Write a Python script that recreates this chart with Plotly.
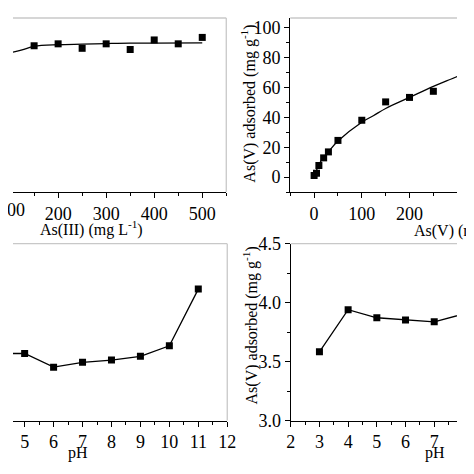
import plotly.graph_objects as go

# ---- data ----
# top-left: As(III) isotherm
c3 = [100, 150, 200, 250, 300, 350, 400, 450, 500]
q3 = [79.0, 88.0, 89.3, 86.3, 89.3, 85.5, 91.9, 89.3, 93.6]
c3_fit = [80, 90, 100, 125, 150, 200, 250, 300, 350, 400, 500]
q3_fit = [80.7, 82.3, 83.2, 85.3, 87.6, 88.7, 89.1, 89.5, 89.8, 89.8, 89.9]

# top-right: As(V) isotherm
c5 = [0, 5, 10, 20, 30, 50, 100, 150, 200, 250, 300]
q5 = [1.1, 2.6, 7.8, 12.9, 16.9, 24.6, 38.1, 50.4, 53.4, 57.5, 66.0]
c5_fit = [0, 5, 10, 20, 30, 50, 100, 125, 150, 200, 250, 300, 320]
q5_fit = [0.8, 4.5, 8.5, 13.2, 17.0, 24.2, 36.8, 41.3, 46.0, 53.4, 60.8, 67.4, 70.4]

# bottom-left: As(III) vs pH
ph3 = [4, 5, 6, 7, 8, 9, 10, 11]
qph3 = [3.569, 3.569, 3.453, 3.494, 3.513, 3.545, 3.634, 4.115]

# bottom-right: As(V) vs pH
ph5 = [3, 4, 5, 6, 7, 8]
qph5 = [3.583, 3.940, 3.872, 3.853, 3.838, 3.902]

# page = figure + 8px body margin on every side; keep the page exactly 474 px
OFF = 8
W = H = 474 - 2 * OFF
FONT = "Liberation Serif"
TFS = 18
FS = 16

def px(p):
    return (p - OFF) / W

def py(p):
    return 1 - (p - OFF) / H

LEFT = OFF
RIGHT = 474 - OFF

fig = go.Figure()
mk = dict(symbol="square", size=7, color="black")
ln = dict(color="black", width=1.3)

fig.add_trace(go.Scatter(x=c3_fit, y=q3_fit, mode="lines", line=dict(shape="spline", **ln), xaxis="x", yaxis="y"))
fig.add_trace(go.Scatter(x=c3, y=q3, mode="markers", marker=mk, xaxis="x", yaxis="y", cliponaxis=False))
fig.add_trace(go.Scatter(x=c5_fit, y=q5_fit, mode="lines", line=dict(shape="spline", **ln), xaxis="x2", yaxis="y2"))
fig.add_trace(go.Scatter(x=c5, y=q5, mode="markers", marker=mk, xaxis="x2", yaxis="y2", cliponaxis=False))
fig.add_trace(go.Scatter(x=ph3, y=qph3, mode="lines+markers", marker=mk, line=ln, xaxis="x3", yaxis="y3"))
fig.add_trace(go.Scatter(x=ph5, y=qph5, mode="lines+markers", marker=mk, line=ln, xaxis="x4", yaxis="y4"))

tickfont = dict(family=FONT, size=TFS, color="black")

def xax(domain, rng, dtick, mdtick, anchor):
    return dict(domain=domain, range=rng, anchor=anchor, showline=True, linecolor="black", linewidth=1.3,
                ticks="outside", ticklen=5, tickwidth=1.3, tickcolor="black", dtick=dtick, tick0=0,
                minor=dict(ticks="outside", ticklen=3, tickwidth=1.1, tickcolor="black", dtick=mdtick, tick0=0),
                showgrid=False, zeroline=False, tickfont=tickfont, ticklabeloverflow="allow")

def yax(domain, rng, dtick, mdtick, anchor, visible=True):
    d = dict(domain=domain, range=rng, anchor=anchor, showgrid=False, zeroline=False)
    if visible:
        d.update(showline=True, linecolor="black", linewidth=1.3, ticks="outside", ticklen=5, tickwidth=1.3,
                 tickcolor="black", dtick=dtick, tick0=0,
                 minor=dict(ticks="outside", ticklen=3, tickwidth=1.1, tickcolor="black", dtick=mdtick, tick0=0),
                 tickfont=tickfont, tickformat=".1f" if dtick < 1 else None, ticklabeloverflow="allow")
    else:
        d.update(showline=False, showticklabels=False, ticks="")
    return d

top_dom = [py(190), 1]
top_rng = [-10, 110 - (LEFT - 2.7) / 1.561]
bot_dom = [py(429), py(244)]

fig.update_layout(
    width=W, height=H, margin=dict(l=0, r=0, t=0, b=0), autosize=False,
    paper_bgcolor="white", plot_bgcolor="white", showlegend=False,
    xaxis=xax([0, px(228)], [100 + (LEFT - 5) / 0.495, 550], 100, 50, "y"),
    yaxis=yax(top_dom, top_rng, 20, 10, "x", visible=False),
    xaxis2=xax([px(294), 1], [-50, (RIGHT - 318.3) / 0.493], 100, 50, "y2"),
    yaxis2=yax(top_dom, top_rng, 20, 10, "x2"),
    xaxis3=xax([0, px(229)], [5 + (LEFT - 20) / 29.8, 12], 1, 0.5, "y3"),
    yaxis3=yax(bot_dom, [3.0, 4.5], 0.5, 0.25, "x3", visible=False),
    xaxis4=xax([px(294.5), 1], [2, 2 + (RIGHT - 294.5) / 29.6], 1, 0.5, "y4"),
    yaxis4=yax(bot_dom, [3.0, 4.5], 0.5, 0.25, "x4"),
)

gray = dict(color="#c8c8c8", width=1.3)
shapes = []
for xr, yr, right in [("x", "y", True), ("x2", "y2", False), ("x3", "y3", True), ("x4", "y4", False)]:
    shapes.append(dict(type="line", xref=f"{xr} domain", yref=f"{yr} domain", x0=0, x1=1, y0=1, y1=1, line=gray))
    if right:
        shapes.append(dict(type="line", xref=f"{xr} domain", yref=f"{yr} domain", x0=1, x1=1, y0=0, y1=1, line=gray))
fig.update_layout(shapes=shapes)

tf = dict(family=FONT, size=FS, color="black")
ann = [
    dict(text="100", x=px(6), y=py(196), xanchor="center", yanchor="top", font=tickfont),
    dict(text="As(III) (mg L<sup>-1</sup>)", x=px(89), y=py(228), xanchor="center", yanchor="middle", font=tf),
    dict(text="As(V) (mg L<sup>-1</sup>)", x=px(420), y=py(229), xanchor="left", yanchor="middle", font=tf),
    dict(text="pH", x=px(75), y=py(451), xanchor="center", yanchor="top", font=tf),
    dict(text="pH", x=px(443.7), y=py(451), xanchor="center", yanchor="top", font=tf),
    dict(text="As(V) adsorbed (mg g<sup>-1</sup>)", x=px(251), y=py(98), xanchor="center", yanchor="middle", textangle=-90, font=tf),
    dict(text="As(V) adsorbed (mg g<sup>-1</sup>)", x=px(254), y=py(329), xanchor="center", yanchor="middle", textangle=-90, font=tf),
]
for a in ann:
    a.update(xref="paper", yref="paper", showarrow=False)
fig.update_layout(annotations=ann)

fig.write_html("out.html", config={"displayModeBar": False})
